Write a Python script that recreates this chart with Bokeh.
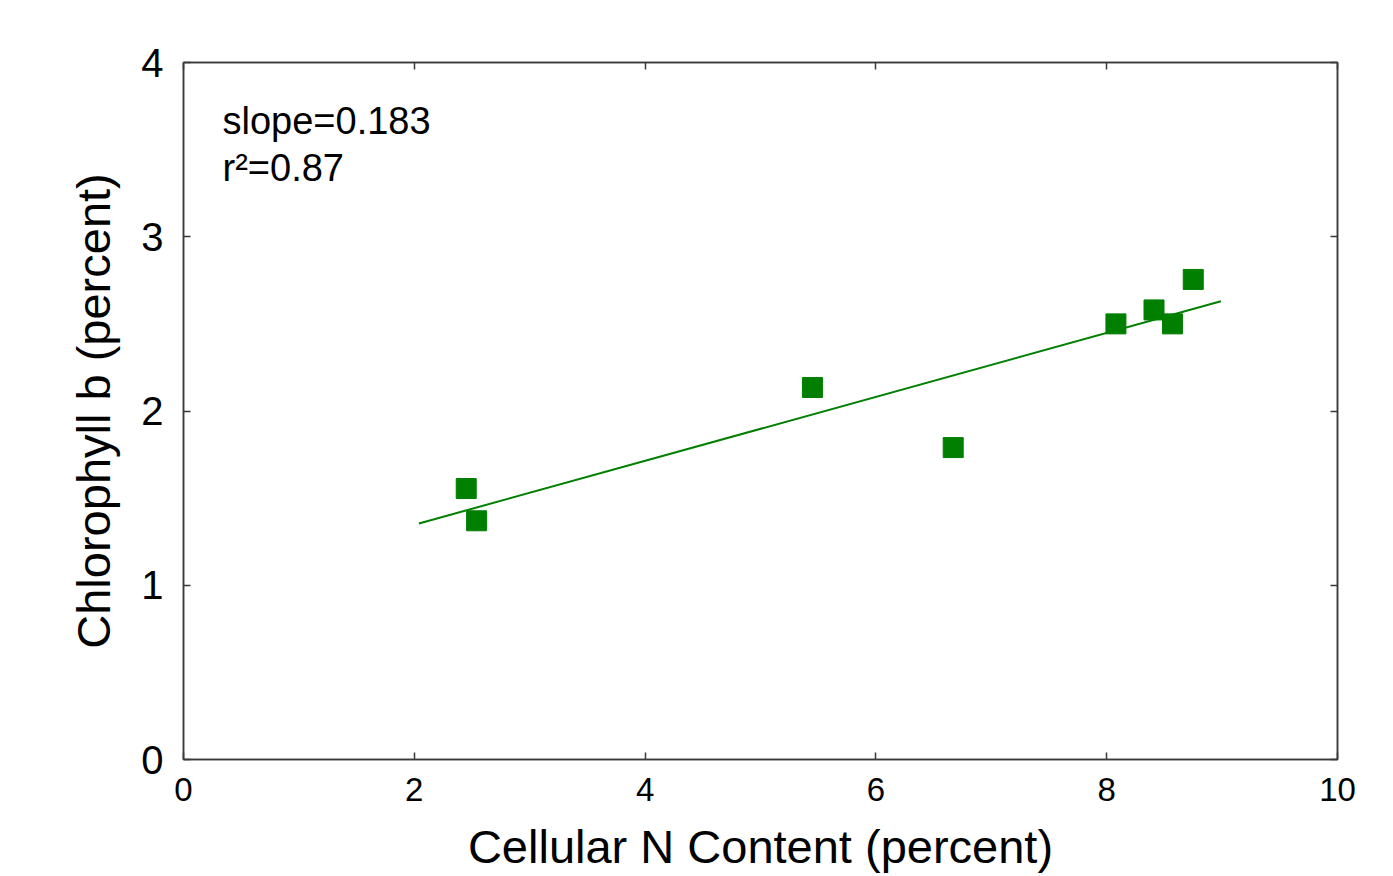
import numpy as np
from bokeh.plotting import figure
from bokeh.models import FixedTicker, LinearAxis, Range1d, Label
from bokeh.embed import file_html
from bokeh.resources import INLINE

# Data
n_content = [2.45, 2.54, 5.45, 6.67, 8.08, 8.41, 8.57, 8.75]
chl_b = [1.555, 1.37, 2.135, 1.79, 2.50, 2.58, 2.50, 2.755]
fit_x_range = [2.04, 8.99]
x_ticks = [0, 2, 4, 6, 8, 10]
y_ticks = [0, 1, 2, 3, 4]
annot_slope = "slope=0.183"
annot_r2 = "r\u00b2=0.87"

FONT = "Liberation Sans"
GREEN = "#007f00"
AX = "#3a3a3a"

p = figure(width=1377, height=876, output_backend="svg", toolbar_location=None,
           x_range=Range1d(0, 10), y_range=Range1d(0, 4),
           min_border_left=183, min_border_right=40, min_border_top=62, min_border_bottom=117,
           x_axis_label="Cellular N Content (percent)",
           y_axis_label="Chlorophyll b (percent)")
p.grid.visible = False
p.outline_line_color = AX
p.outline_line_width = 1.5
p.background_fill_color = "white"
p.border_fill_color = "white"

xa = p.xaxis[0]
ya = p.yaxis[0]
xa.ticker = FixedTicker(ticks=x_ticks)
ya.ticker = FixedTicker(ticks=y_ticks)
for ax in (xa, ya):
    ax.axis_line_color = AX
    ax.axis_line_width = 1.5
    ax.major_tick_line_color = AX
    ax.major_tick_line_width = 1.5
    ax.major_tick_in = 7
    ax.major_tick_out = 0
    ax.minor_tick_line_color = None
    ax.major_label_text_font = FONT
    ax.major_label_text_color = "black"
    ax.axis_label_text_font = FONT
    ax.axis_label_text_font_style = "normal"
    ax.axis_label_text_font_size = "47px"
    ax.axis_label_text_color = "black"
xa.major_label_text_font_size = "33px"
ya.major_label_text_font_size = "40px"
xa.major_label_standoff = 18
ya.major_label_standoff = 20
xa.axis_label_standoff = 16
ya.axis_label_standoff = 18

top = LinearAxis(ticker=FixedTicker(ticks=x_ticks), major_label_text_font_size="0px",
                 major_label_text_color=None, axis_line_color=AX, axis_line_width=1.5,
                 major_tick_line_color=AX, major_tick_line_width=1.5,
                 major_tick_in=7, major_tick_out=0, minor_tick_line_color=None,
                 major_label_standoff=0)
right = LinearAxis(ticker=FixedTicker(ticks=y_ticks), major_label_text_font_size="0px",
                   major_label_text_color=None, axis_line_color=AX, axis_line_width=1.5,
                   major_tick_line_color=AX, major_tick_line_width=1.5,
                   major_tick_in=7, major_tick_out=0, minor_tick_line_color=None,
                   major_label_standoff=0)
p.add_layout(top, "above")
p.add_layout(right, "right")

# regression line
coef = np.polyfit(n_content, chl_b, 1)
fx = np.array(fit_x_range)
fy = np.polyval(coef, fx)
p.line(fx, fy, line_color=GREEN, line_width=2)

p.scatter(n_content, chl_b, marker="square", size=20, fill_color=GREEN,
          line_color=GREEN, line_width=1)

p.add_layout(Label(x=39, y=618, x_units="screen", y_units="screen",
                   text=annot_slope, text_font=FONT, text_font_size="38px",
                   text_color="black"))
p.add_layout(Label(x=39, y=571, x_units="screen", y_units="screen",
                   text=annot_r2, text_font=FONT, text_font_size="38px",
                   text_color="black"))

open("out.html", "w").write(file_html(p, INLINE))
